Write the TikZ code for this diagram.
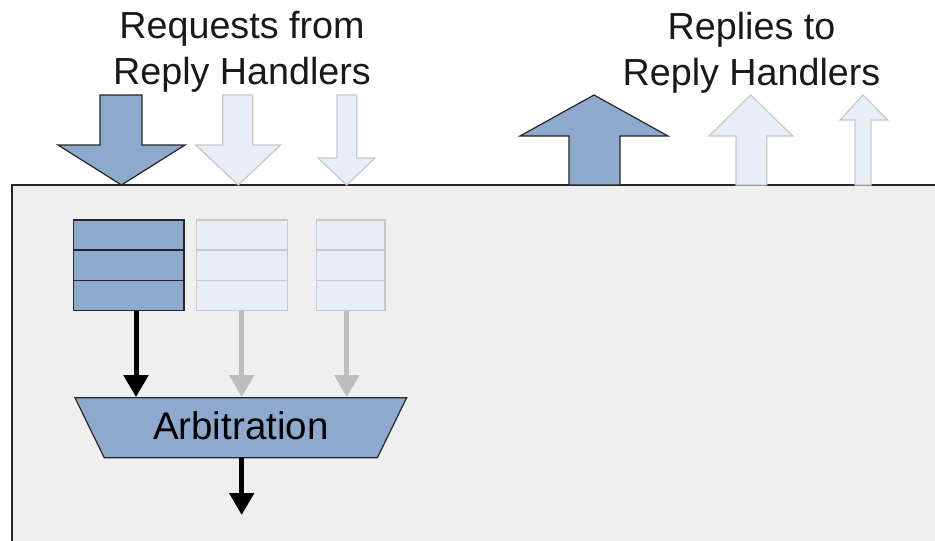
\documentclass[tikz,border=0pt]{standalone}
\usepackage{fontspec}
\setmainfont{Liberation Sans}
\usetikzlibrary{shapes.geometric,arrows.meta,calc}

\definecolor{blkblue}{HTML}{8DA9CD}
\definecolor{blklight}{HTML}{E8EEF7}
\definecolor{edgelight}{HTML}{C8C8C8}
\definecolor{panelgray}{HTML}{EFEFEF}
\definecolor{flowgray}{HTML}{BDBDBD}

\tikzset{
  bigdark/.style={fill=blkblue,draw=black!85,line width=1.2pt},
  biglight/.style={fill=blklight,draw=edgelight,line width=1.2pt},
  queue/.style={rectangle,minimum height=90.7pt,inner sep=0pt,line width=1.2pt},
  flow/.style={line width=5pt,-{Triangle[width=24pt,length=22pt]}},
  title/.style={anchor=north,inner sep=0pt,align=center,text=black!90,font=\fontsize{37.7}{46}\selectfont},
}

\begin{document}
\begin{tikzpicture}[x=1pt,y=-1pt]
    \useasboundingbox (0,0) rectangle (935,541);
    % panel
    \fill[panelgray] (12,185) rectangle (935,541);
    \draw[line width=1.5pt,black!85] (12,541) -- (12,185) -- (935,185);

    \node[title] (reqtxt) at (242,11.5) {Requests from\\Reply Handlers};
    \node[title] (reptxt) at (751.5,11.5) {Replies to\\Reply Handlers};

    % requests coming in
    \draw[bigdark] (100,95) -- (142,95) -- (142,145) -- (185,145) -- (121.5,185) -- (58,145) -- (100,145) -- cycle;
    \draw[biglight] (222.7,95) -- (252.7,95) -- (252.7,145) -- (280.7,145) -- (238.2,185) -- (195.7,145) -- (222.7,145) -- cycle;
    \draw[biglight] (337,95) -- (356.7,95) -- (356.7,158) -- (375,158) -- (346.7,185) -- (318,158) -- (337,158) -- cycle;

    % replies going out
    \draw[bigdark] (569,185) -- (569,136) -- (520,136) -- (594,95) -- (668,136) -- (620,136) -- (620,185) -- cycle;
    \draw[biglight] (736,185) -- (736,136) -- (709,136) -- (750.7,95) -- (792.7,136) -- (766.7,136) -- (766.7,185) -- cycle;
    \draw[biglight] (855,185) -- (855,120) -- (840,120) -- (863,95) -- (887.7,120) -- (871,120) -- (871,185) -- cycle;

    % queues
    \node[queue,fill=blkblue,draw=black!85,minimum width=110.7pt] (q1) at (128.7,265.4) {};
    \node[queue,fill=blklight,draw=edgelight,minimum width=91pt] (q2) at (242.2,265.4) {};
    \node[queue,fill=blklight,draw=edgelight,minimum width=68.3pt] (q3) at (350.8,265.4) {};
    \foreach \f in {1,2}
        \draw[line width=1.2pt,black!85] ($(q1.north west)!\f/3!(q1.south west)$) -- ($(q1.north east)!\f/3!(q1.south east)$);
    \foreach \q in {q2,q3}
        \foreach \f in {1,2}
            \draw[line width=1.2pt,edgelight] ($(\q.north west)!\f/3!(\q.south west)$) -- ($(\q.north east)!\f/3!(\q.south east)$);

    \node[trapezium,trapezium angle=64,shape border rotate=180,trapezium stretches body,
          minimum width=331.7pt,inner xsep=0pt,inner ysep=13.5pt,text height=28pt,text depth=5pt,
          fill=blkblue,draw=black!85,line width=1.2pt,
          font=\fontsize{38.5}{42}\selectfont] (arb) at (240.8,427.7) {Arbitration};

    \draw[flow,black] ([xshift=7.3pt]q1.south) -- ([xshift=7.3pt]q1.south |- arb.north);
    \draw[flow,flowgray] ([xshift=-0.5pt]q2.south) -- ([xshift=-0.5pt]q2.south |- arb.north);
    \draw[flow,flowgray] ([xshift=-4pt]q3.south) -- ([xshift=-4pt]q3.south |- arb.north);

    \coordinate (out) at (241.7,515);
    \draw[flow,black] (arb.south -| out) -- (out);
\end{tikzpicture}
\end{document}
